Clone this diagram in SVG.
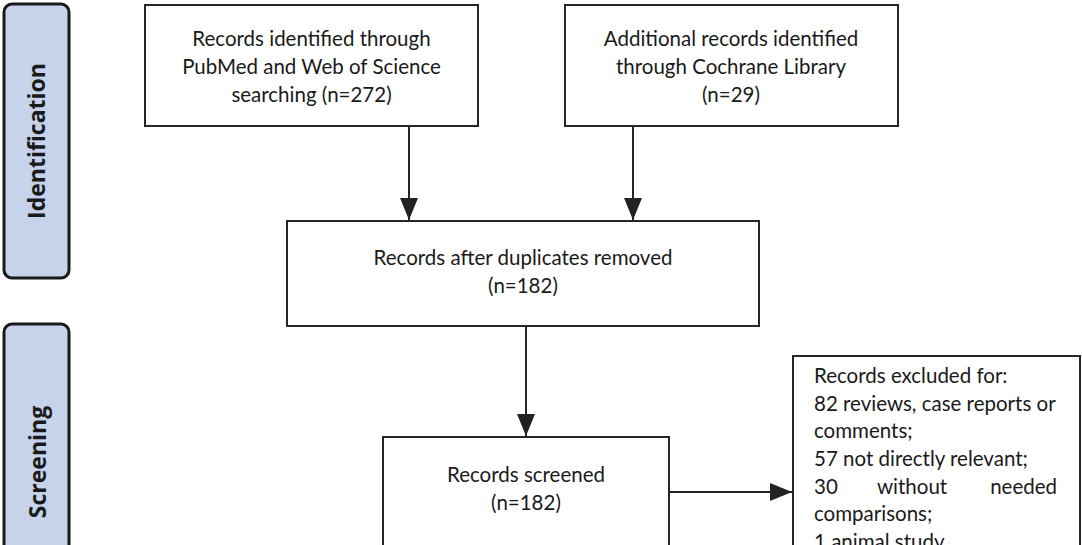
<svg xmlns="http://www.w3.org/2000/svg" width="1082" height="545" viewBox="0 0 1082 545">
<defs>
<style>
.box{fill:#fff;stroke:#262626;stroke-width:2}
.side{fill:#c6d3ea;stroke:#1a1a1a;stroke-width:3}
.t{font-family:Lato,"Liberation Sans",sans-serif;font-size:20.5px;fill:#1a1a1a}
.c{text-anchor:middle}
.s{font-family:"Open Sans","Liberation Sans",sans-serif;font-weight:bold;font-size:23px;fill:#1a1a1a;text-anchor:middle}
.ln{stroke:#262626;stroke-width:2;fill:none;marker-end:url(#ah)}
</style>
<marker id="ah" markerUnits="userSpaceOnUse" markerWidth="22" markerHeight="18" refX="22" refY="9" orient="auto" viewBox="0 0 22 18">
<path d="M0,0 L22,9 L0,18 z" fill="#222"/>
</marker>
</defs>
<rect width="1082" height="545" fill="#fff"/>
<g id="label-identification">
<rect class="side" x="4" y="4" width="65" height="274" rx="8"/>
<text class="s" transform="translate(45,141) rotate(-90)">Identification</text>
</g>
<g id="label-screening">
<rect class="side" x="4" y="324" width="65" height="300" rx="8"/>
<text class="s" transform="translate(46,462) rotate(-90)">Screening</text>
</g>
<g id="n1">
<rect class="box" x="145" y="5" width="333" height="121"/>
<text class="t c" x="311.5" y="46">Records identified through</text>
<text class="t c" x="311.5" y="74">PubMed and Web of Science</text>
<text class="t c" x="311.5" y="102">searching (n=272)</text>
</g>
<g id="n2">
<rect class="box" x="565" y="5" width="333" height="121"/>
<text class="t c" x="731" y="46">Additional records identified</text>
<text class="t c" x="731" y="74">through Cochrane Library</text>
<text class="t c" x="731" y="102">(n=29)</text>
</g>
<g id="n3">
<rect class="box" x="287" y="221" width="472" height="105"/>
<text class="t c" x="523" y="265">Records after duplicates removed</text>
<text class="t c" x="523" y="293">(n=182)</text>
</g>
<g id="n4">
<rect class="box" x="383" y="437" width="286" height="150"/>
<text class="t c" x="526" y="482">Records screened</text>
<text class="t c" x="526" y="510">(n=182)</text>
</g>
<g id="n5">
<rect class="box" x="793" y="356" width="287" height="230"/>
<text class="t" x="814" y="383">Records excluded for:</text>
<text class="t" x="814" y="411">82 reviews, case reports or</text>
<text class="t" x="814" y="438">comments;</text>
<text class="t" x="814" y="466">57 not directly relevant;</text>
<text class="t" x="814" y="494">30</text>
<text class="t" x="877" y="494">without</text>
<text class="t" x="1057" y="494" text-anchor="end">needed</text>
<text class="t" x="814" y="521">comparisons;</text>
<text class="t" x="814" y="549">1 animal study</text>
</g>
<g id="connectors">
<line class="ln" x1="409" y1="126" x2="409" y2="220"/>
<line class="ln" x1="633" y1="126" x2="633" y2="220"/>
<line class="ln" x1="526" y1="326" x2="526" y2="436"/>
<line class="ln" x1="669" y1="492" x2="792" y2="492"/>
</g>
</svg>
